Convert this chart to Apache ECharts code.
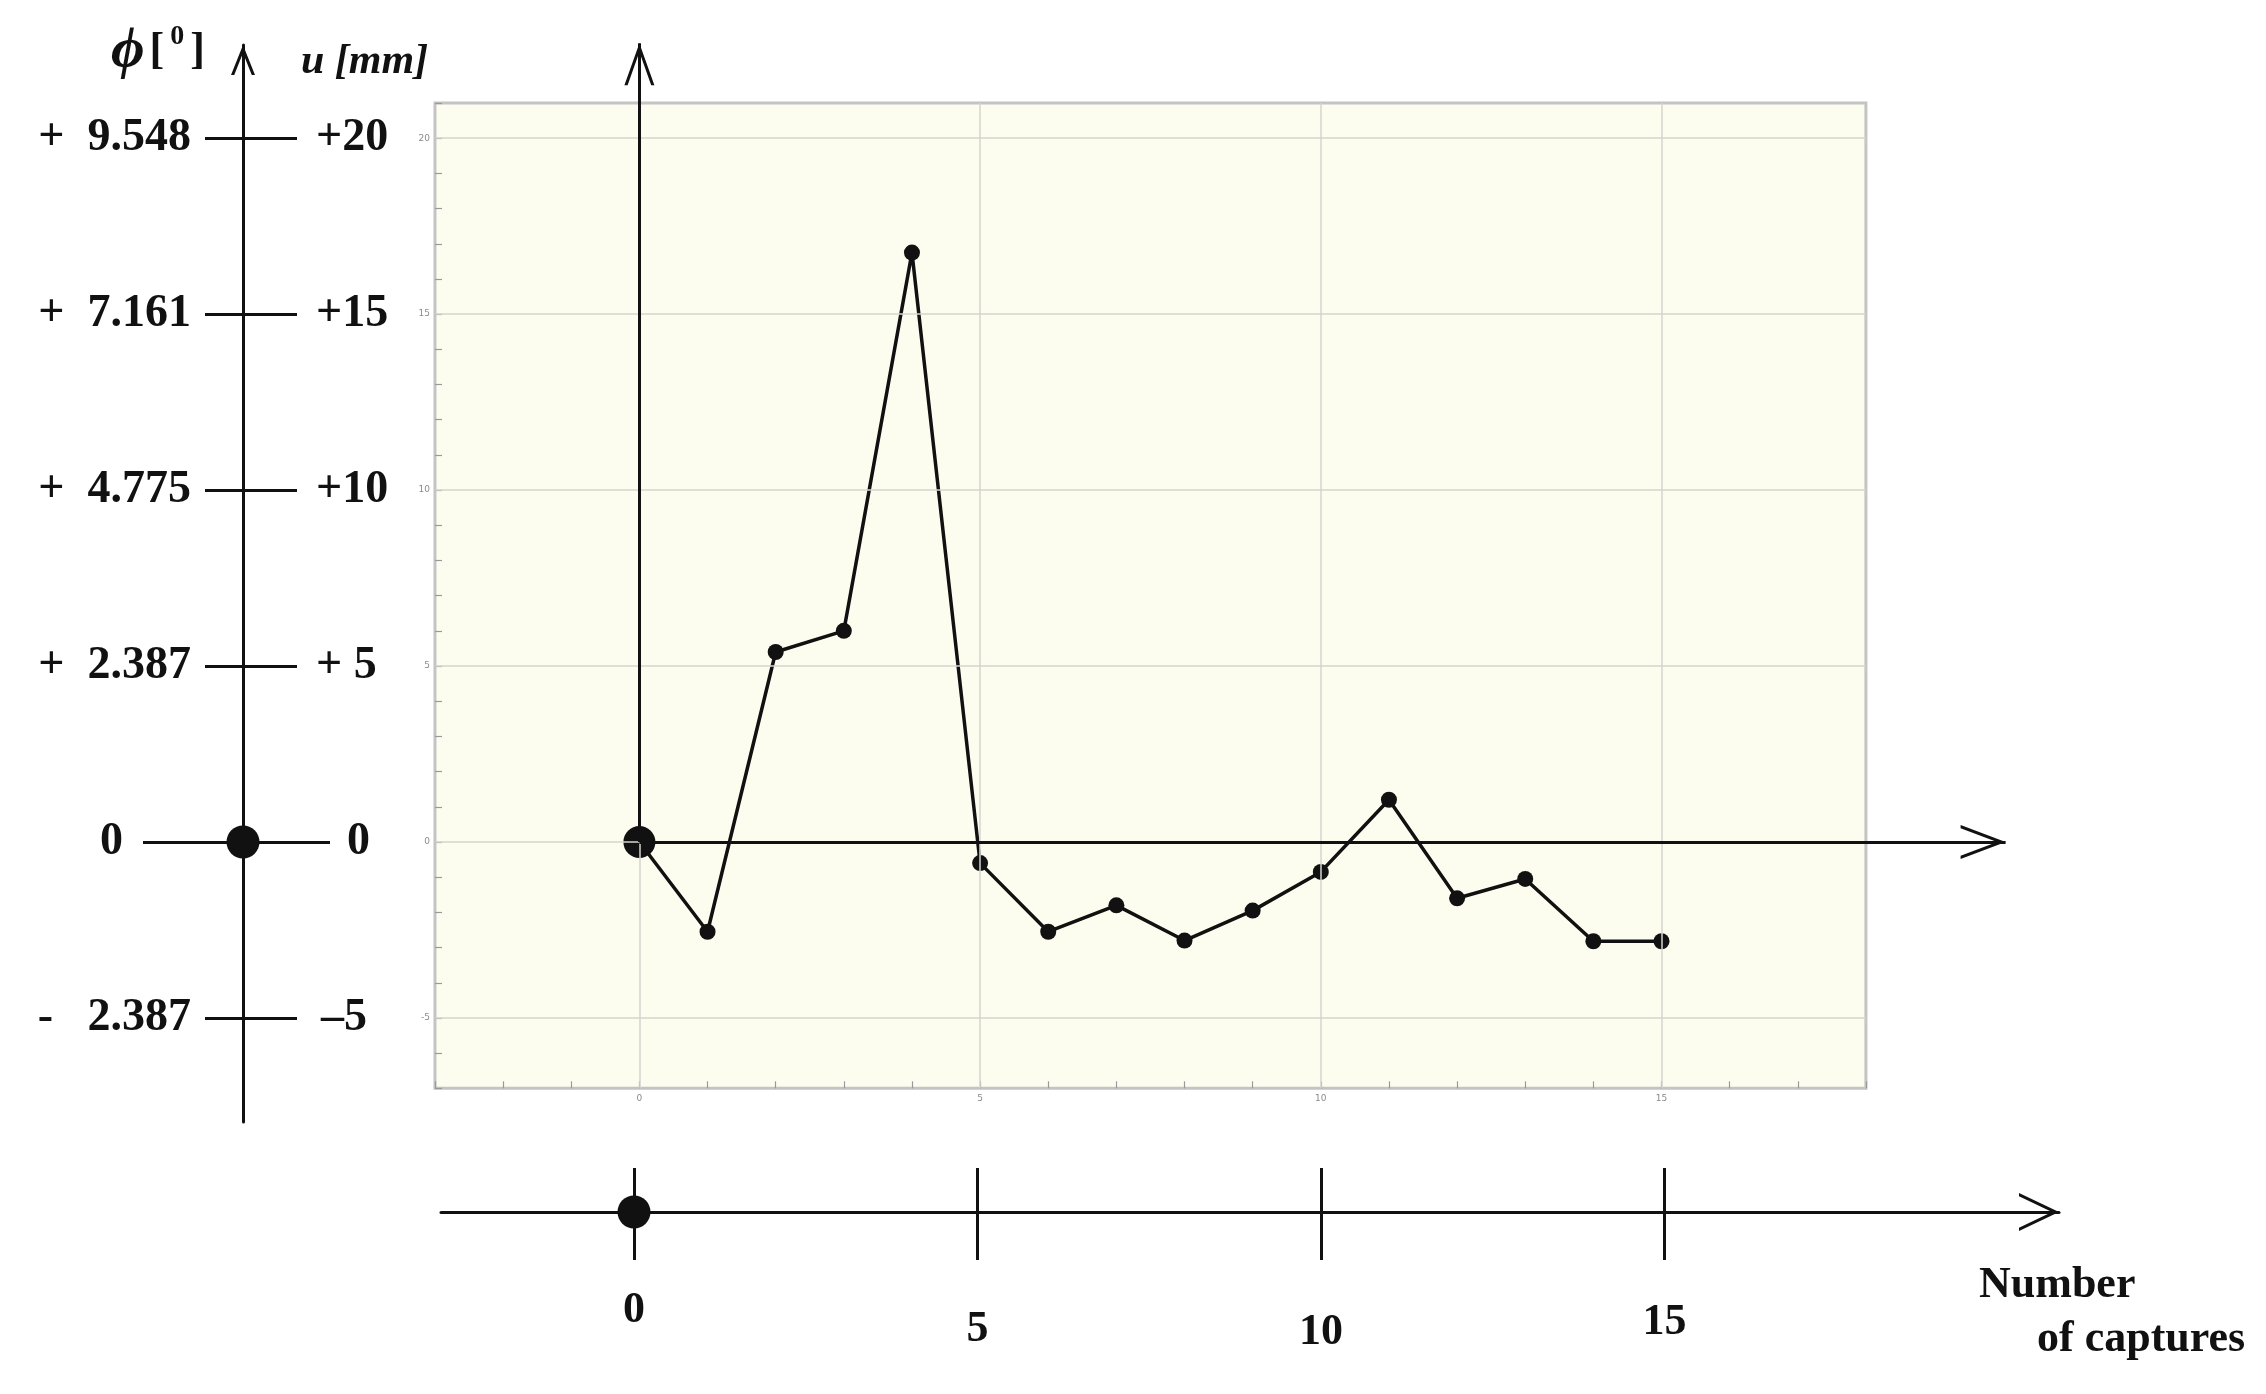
<!DOCTYPE html>
<html>
<head>
<meta charset="utf-8">
<script src="https://cdn.jsdelivr.net/npm/echarts@6.0.0/dist/echarts.min.js"></script>
<style>
  html, body { margin: 0; padding: 0; background: #fff; }
  #chart { width: 2266px; height: 1394px; }
</style>
</head>
<body>
<div id="chart"></div>
<script>
// data
const captures = [0, 1, 2, 3, 4, 5, 6, 7, 8, 9, 10, 11, 12, 13, 14, 15]
const displacement = [0, -2.55, 5.4, 6.0, 16.75, -0.6, -2.55, -1.8, -2.8, -1.95, -0.85, 1.2, -1.6, -1.05, -2.82, -2.82]

const uTicks = [-5, 0, 5, 10, 15, 20]
const uLabels = ['–5', '0', '+ 5', '+10', '+15', '+20']
const phiLabels = ['-   2.387', '0', '+  2.387', '+  4.775', '+  7.161', '+  9.548']
const captureTicks = [0, 5, 10, 15]
const gridX = [0, 5, 10, 15]
const gridY = [-5, 0, 5, 10, 15, 20]

// pixel scale shared by the plot and the arrows
const X0 = 639.4, PX = 68.14, Y0 = 842, PY = 35.19
// bottom axis has its own slightly wider spacing
const X0B = 634, PXB = 68.7
const SERIF = "'Liberation Serif', 'DejaVu Serif', serif"

function box(xMin, xMax, yMin, yMax) {
  return {
    left: X0 + xMin * PX,
    top: Y0 - yMax * PY,
    width: (xMax - xMin) * PX,
    height: (yMax - yMin) * PY,
    outerBoundsMode: 'none'
  }
}

// open arrow head, tip sits at the centre of the symbol box
function chevron(w, h, t) {
  const L = Math.hypot(w / 2, h)
  const a = t * L / h, b = t * L / (w / 2), c = w / 2
  const f = n => n.toFixed(2)
  return {
    path: `path://M${f(c)},0L${f(c + 0.01)},0L${f(c)},0.01Z` +
      `M${f(c)},${f(h)}L${f(w)},${f(2 * h)}L${f(w - a)},${f(2 * h)}L${f(c)},${f(h + b)}L${f(a)},${f(2 * h)}L0,${f(2 * h)}Z`,
    size: [w, 2 * h]
  }
}
const arrowY = chevron(30, 42, 3)
const arrowX = chevron(34, 45, 3)
const arrowLeft = chevron(24, 30, 3)
const arrowBottom = chevron(38, 40, 3)

const bMin = (441 - X0B) / PXB, bMax = (2059 - X0B) / PXB
const leftTop = 22.65, leftBottom = -7.96

const big = { fontFamily: SERIF, fontWeight: 'bold', fontSize: 46, color: '#111' }
const tiny = { fontFamily: 'DejaVu Sans', fontSize: 9, color: '#8a8a8a' }
// bottom labels sit at slightly different heights
const bottomShift = { 0: 0, 5: 19, 10: 22, 15: 12 }
const bottomRich = {}
captureTicks.forEach(v => {
  bottomRich['b' + v] = Object.assign({ padding: [bottomShift[v], 0, 0, 0] }, big, { fontSize: 44 })
})

let myCharts = echarts.init(document.getElementById('chart'))
myCharts.setOption({
  animation: false,
  backgroundColor: '#fff',
  title: [
    {
      left: 106, top: 18,
      text: '{p|\u03D5} {b|[}{s|0}{b|]}',
      textStyle: {
        rich: {
          p: { fontFamily: SERIF, fontStyle: 'italic', fontWeight: 'bold', fontSize: 58, color: '#111' },
          b: { fontFamily: SERIF, fontWeight: 'bold', fontSize: 44, color: '#111' },
          s: { fontFamily: SERIF, fontWeight: 'bold', fontSize: 28, color: '#111', verticalAlign: 'top', padding: [0, 6, 0, 6] }
        }
      }
    },
    {
      left: 296, top: 36,
      text: 'u [mm]',
      textStyle: { fontFamily: SERIF, fontStyle: 'italic', fontWeight: 'bold', fontSize: 42, color: '#111' }
    },
    {
      left: 1974, top: 1259,
      text: 'Number',
      textStyle: { fontFamily: SERIF, fontWeight: 'bold', fontSize: 44, color: '#111' }
    },
    {
      left: 2032, top: 1313,
      text: 'of captures',
      textStyle: { fontFamily: SERIF, fontWeight: 'bold', fontSize: 44, color: '#111' }
    }
  ],
  grid: [
    // plot box
    Object.assign(box(-3, 18, -7, 21), { show: true, backgroundColor: '#fdfdef', borderColor: '#c4c4c4', borderWidth: 3 }),
    // overlay for the big arrows and the data
    box(-3, 21, -7, 23.5),
    // left phi / u scale
    { left: 143, width: 200, top: Y0 - leftTop * PY, height: (leftTop - leftBottom) * PY, outerBoundsMode: 'none' },
    // bottom capture scale
    { left: X0B + bMin * PXB, width: (bMax - bMin) * PXB, top: 1162, height: 50, outerBoundsMode: 'none' }
  ],
  xAxis: [
    {
      gridIndex: 0, type: 'value', min: -3, max: 18, interval: 1,
      axisLine: { show: false, onZero: false },
      axisTick: { show: true, inside: true, length: 7, lineStyle: { color: '#999', width: 1.2 } },
      axisLabel: Object.assign({ margin: 6, formatter: v => (v % 5 === 0 ? String(v) : '') }, tiny),
      splitLine: { show: false }
    },
    { gridIndex: 1, type: 'value', min: -3, max: 21, show: false },
    { gridIndex: 2, type: 'value', min: -100, max: 100, show: false },
    {
      gridIndex: 3, type: 'value', min: bMin, max: bMax, position: 'bottom',
      axisLine: { show: true, onZero: false, symbol: ['none', arrowBottom.path], symbolSize: arrowBottom.size, lineStyle: { color: '#111', width: 3 } },
      axisTick: { show: true, customValues: captureTicks, length: 48, lineStyle: { color: '#111', width: 3 } },
      axisLabel: Object.assign({
        customValues: captureTicks, margin: 77,
        formatter: v => `{b${v}|${v}}`,
        rich: bottomRich
      }, big, { fontSize: 44 }),
      splitLine: { show: false }
    },
    {
      gridIndex: 3, type: 'value', min: bMin, max: bMax, position: 'bottom',
      axisLine: { show: false, onZero: false },
      axisTick: { show: true, inside: true, customValues: captureTicks, length: 44, lineStyle: { color: '#111', width: 3 } },
      axisLabel: { show: false },
      splitLine: { show: false }
    }
  ],
  yAxis: [
    {
      gridIndex: 0, type: 'value', min: -7, max: 21, interval: 1,
      axisLine: { show: false, onZero: false },
      axisTick: { show: true, inside: true, length: 7, lineStyle: { color: '#999', width: 1.2 } },
      axisLabel: Object.assign({ margin: 5, formatter: v => (v % 5 === 0 ? String(v) : '') }, tiny),
      splitLine: { show: false }
    },
    { gridIndex: 1, type: 'value', min: -7, max: 23.5, show: false },
    {
      gridIndex: 2, type: 'value', min: leftBottom, max: leftTop, position: 'left', offset: -100,
      axisLine: { show: true, onZero: false, symbol: ['none', arrowLeft.path], symbolSize: arrowLeft.size, lineStyle: { color: '#111', width: 3 } },
      axisTick: { show: true, customValues: uTicks, length: 38, lineStyle: { color: '#111', width: 3 } },
      axisLabel: Object.assign({
        customValues: uTicks, margin: 52,
        formatter: v => (v === 0 ? '{z|0}' : phiLabels[uTicks.indexOf(v)]),
        rich: { z: Object.assign({ padding: [0, 68, 0, 0] }, big) }
      }, big),
      splitLine: { show: false }
    },
    {
      gridIndex: 2, type: 'value', min: leftBottom, max: leftTop, position: 'left', offset: -100,
      axisLine: { show: false, onZero: false },
      axisTick: { show: true, inside: true, customValues: uTicks, length: 54, lineStyle: { color: '#111', width: 3 } },
      axisLabel: Object.assign({
        customValues: uTicks, inside: true, margin: 73,
        formatter: v => (v === 0 ? '{z|0}' : v === -5 ? '{m|–5}' : uLabels[uTicks.indexOf(v)]),
        rich: {
          z: Object.assign({ padding: [0, 0, 0, 31] }, big),
          m: Object.assign({ padding: [0, 0, 0, 5] }, big)
        }
      }, big),
      splitLine: { show: false }
    },
    { gridIndex: 3, type: 'value', min: 0, max: 1, show: false },
    // the long zero tick of the left scale
    {
      gridIndex: 2, type: 'value', min: leftBottom, max: leftTop, position: 'left', offset: -100,
      axisLine: { show: false, onZero: false },
      axisTick: { show: true, customValues: [0], length: 100, lineStyle: { color: '#111', width: 3 } },
      axisLabel: { show: false },
      splitLine: { show: false }
    },
    {
      gridIndex: 2, type: 'value', min: leftBottom, max: leftTop, position: 'left', offset: -100,
      axisLine: { show: false, onZero: false },
      axisTick: { show: true, inside: true, customValues: [0], length: 87, lineStyle: { color: '#111', width: 3 } },
      axisLabel: { show: false },
      splitLine: { show: false }
    }
  ],
  series: [
    {
      // light grid of the plot box
      type: 'line', xAxisIndex: 0, yAxisIndex: 0, data: [], z: 1,
      markLine: {
        silent: true, symbol: ['none', 'none'], label: { show: false },
        lineStyle: { color: '#d4d4d0', width: 1.5, type: 'solid' },
        data: gridX.map(v => ({ xAxis: v })).concat(gridY.map(v => ({ yAxis: v })))
      }
    },
    {
      // big axes drawn through the plot
      type: 'line', xAxisIndex: 1, yAxisIndex: 1, data: [], z: 3,
      markLine: {
        silent: true, label: { show: false },
        lineStyle: { color: '#111', width: 3, type: 'solid' },
        itemStyle: { color: '#111' },
        data: [
          [{ coord: [0, 0], symbol: 'none' }, { coord: [0, 22.7], symbol: arrowY.path, symbolSize: arrowY.size }],
          [{ coord: [0, 0], symbol: 'none' }, { coord: [20.05, 0], symbol: arrowX.path, symbolSize: arrowX.size }]
        ]
      }
    },
    {
      name: 'u',
      type: 'line', xAxisIndex: 1, yAxisIndex: 1, z: 4,
      data: captures.map((c, i) => [c, displacement[i]]),
      symbol: 'circle',
      symbolSize: (val, params) => (params.dataIndex === 0 ? 32 : 16),
      lineStyle: { color: '#111', width: 3.5 },
      itemStyle: { color: '#111', opacity: 1 }
    },
    {
      type: 'scatter', xAxisIndex: 2, yAxisIndex: 2, data: [[0, 0]], z: 4,
      symbolSize: 33, itemStyle: { color: '#111', opacity: 1 }
    },
    {
      type: 'scatter', xAxisIndex: 3, yAxisIndex: 4, data: [[0, 0]], z: 4,
      symbolSize: 33, itemStyle: { color: '#111', opacity: 1 }
    }
  ]
})
</script>
</body>
</html>
